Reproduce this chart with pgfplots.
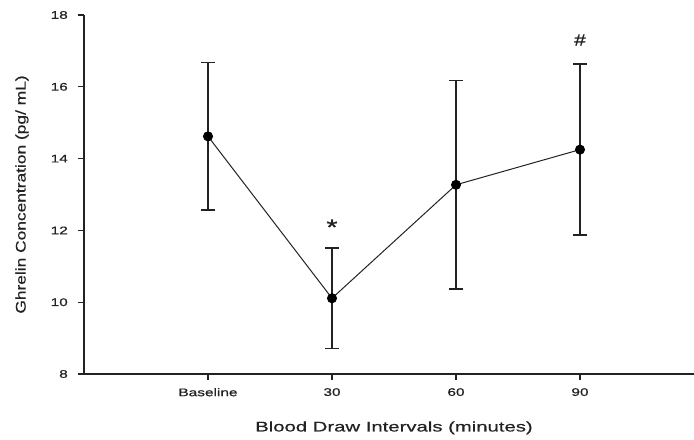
\documentclass[border=0pt]{standalone}
\usepackage{fontspec}
\setmainfont{Liberation Sans}
\newfontfamily\tickfont[FakeStretch=1.4, FakeBold=0.8]{Liberation Sans}
\newfontfamily\xlabfont[FakeStretch=1.45, FakeBold=0.5]{Liberation Sans}
\newfontfamily\ylabfont[FakeStretch=1.24, FakeBold=0.5]{Liberation Sans}
\newfontfamily\annfont[FakeStretch=1.3, FakeBold=1]{Liberation Sans}
\usepackage{pgfplots}
\pgfplotsset{compat=1.18}
\definecolor{ink}{HTML}{222222}
\pgfplotstableread{
x y err
1 14.62 2.05
2 10.11 1.40
3 13.27 2.90
4 14.25 2.38
}\ghrelin
\begin{document}
\begin{tikzpicture}
\useasboundingbox (0,0) rectangle (694bp,440bp);
\begin{axis}[
  at={(84bp,66bp)}, anchor=south west,
  scale only axis, width=620bp, height=359bp,
  xmin=0, xmax=5, ymin=8, ymax=18,
  axis lines*=left,
  axis line style={line width=1.5bp, draw=ink},
  xtick={1,2,3,4}, xticklabels={Baseline,30,60,90},
  ytick={8,10,12,14,16,18}, yticklabels={8,10,12,14,16,18},
  tick align=outside, major tick length=6bp,
  tick style={line width=1.3bp, draw=ink},
  ticklabel style={font=\tickfont\fontsize{11bp}{13bp}\selectfont, text=ink, inner sep=0pt},
  yticklabel style={anchor=east, xshift=-10bp},
  xticklabel style={anchor=north, yshift=-8bp},
  xlabel={Blood Draw Intervals (minutes)},
  ylabel={Ghrelin Concentration (pg/ mL)},
  xlabel style={font=\xlabfont\fontsize{14bp}{16bp}\selectfont, text=ink, at={(axis description cs:0.5,-0.15)}, anchor=center, inner sep=0pt},
  ylabel style={font=\ylabfont\fontsize{14bp}{16bp}\selectfont, text=ink, at={(axis description cs:-0.1,0.5)}, anchor=center, inner sep=0pt},
  clip=false,
]
\addplot[color=ink, line width=1bp, mark=*, mark size=4.5bp, mark options={fill=black, draw=black},
  error bars/.cd, y dir=both, y explicit,
  error bar style={line width=1.4bp, draw=ink},
  error mark options={rotate=90, mark size=7bp, line width=1.4bp, draw=ink}]
  table[x=x, y=y, y error=err] {\ghrelin};
\node[font=\annfont\fontsize{22bp}{24bp}\selectfont, text=ink, anchor=base, inner sep=0pt] at (axis cs:2,11.88) {*};
\node[font=\annfont\fontsize{16bp}{18bp}\selectfont, text=ink, anchor=base, inner sep=0pt] at (axis cs:4,17.15) {\#};
\end{axis}
\end{tikzpicture}
\end{document}
